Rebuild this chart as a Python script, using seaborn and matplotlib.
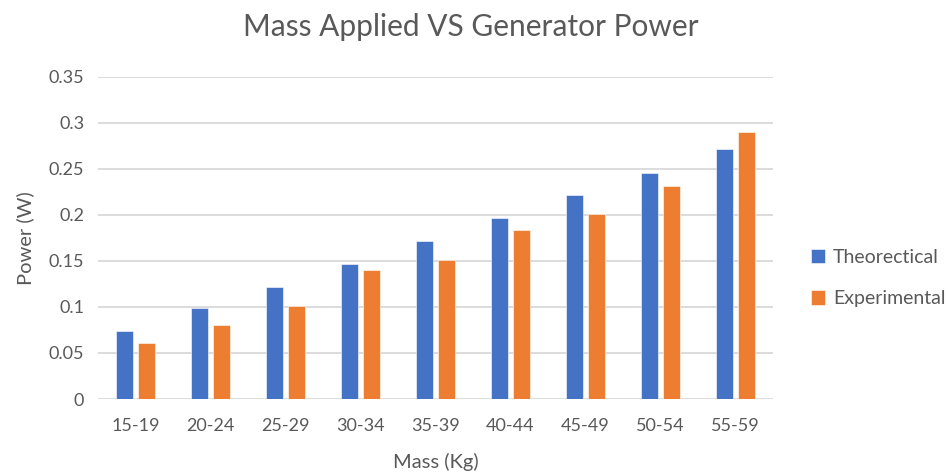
import matplotlib
matplotlib.use("Agg")
import matplotlib.pyplot as plt
import seaborn as sns
import pandas as pd
from matplotlib.ticker import FixedLocator, FuncFormatter

categories = ["15-19", "20-24", "25-29", "30-34", "35-39", "40-44", "45-49", "50-54", "55-59"]
theoretical = [0.074, 0.099, 0.122, 0.147, 0.172, 0.197, 0.221, 0.245, 0.271]
experimental = [0.061, 0.080, 0.101, 0.140, 0.151, 0.183, 0.201, 0.231, 0.290]
series_names = ["Theorectical", "Experimental"]
y_ticks = [0, 0.05, 0.1, 0.15, 0.2, 0.25, 0.3, 0.35]

df = pd.DataFrame({
    "Mass": categories * 2,
    "Power": theoretical + experimental,
    "Series": [series_names[0]] * len(categories) + [series_names[1]] * len(categories),
})

sns.set_theme(style="white")
plt.rcParams["font.family"] = ["Lato", "DejaVu Sans"]
text_col = "#595959"

fig = plt.figure(figsize=(9.48, 4.74), dpi=100)
ax = fig.add_axes([0.1034, 0.1582, 0.712, 0.680])

sns.barplot(data=df, x="Mass", y="Power", hue="Series", order=categories,
            hue_order=series_names, palette=["#4472C4", "#ED7D31"],
            width=0.571, gap=0.2, ax=ax, saturation=1, errorbar=None,
            edgecolor="white", linewidth=0.4, zorder=3)

ax.set_ylim(0, 0.35)
ax.yaxis.set_major_locator(FixedLocator(y_ticks))
ax.yaxis.set_major_formatter(FuncFormatter(lambda v, p: f"{v:g}"))
ax.grid(axis="y", color="#D9D9D9", linewidth=1.3, zorder=0)
ax.grid(axis="x", visible=False)
for s in ax.spines.values():
    s.set_visible(False)
ax.tick_params(axis="both", length=0, labelsize=13, labelcolor=text_col)
ax.tick_params(axis="x", pad=14)
ax.tick_params(axis="y", pad=10)

ax.set_xlabel("Mass (Kg)", fontsize=14.5, color=text_col, labelpad=13)
ax.set_ylabel("Power (W)", fontsize=14.5, color=text_col, labelpad=10)
fig.text(0.497, 0.943, "Mass Applied VS Generator Power", ha="center", va="center",
         fontsize=21.5, color=text_col)

leg = ax.legend(loc="center left", bbox_to_anchor=(1.03, 0.375), frameon=False,
                fontsize=14, labelcolor=text_col, handlelength=0.75, handleheight=0.75,
                handletextpad=0.4, labelspacing=1.25)

fig.savefig("out.png", dpi=100)
